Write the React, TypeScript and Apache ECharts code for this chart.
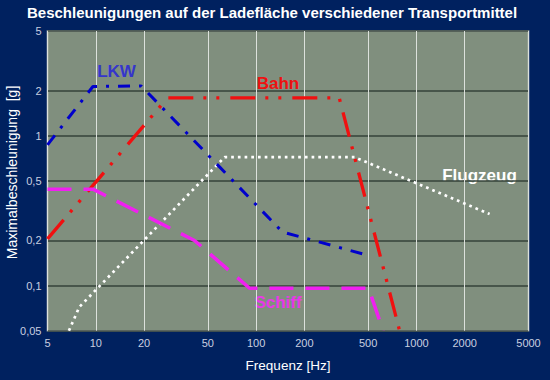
import React, { useEffect, useRef } from 'react';
import * as echarts from 'echarts';

// Tick labels
const xTicks = [5, 10, 20, 50, 100, 200, 500, 1000, 2000, 5000];
const yTicks = [0.05, 0.1, 0.2, 0.5, 1, 2, 5];

// Series values (frequency in Hz, max acceleration in g)
const lkwFreq = [5, 9.6, 19.2, 146, 460];
const lkwAcc = [0.87, 2.13, 2.15, 0.228, 0.163];
const bahnFreq = [5, 28, 330, 785];
const bahnAcc = [0.205, 1.79, 1.79, 0.05];
const flugFreq = [6.8, 7.9, 63.6, 411, 2860];
const flugAcc = [0.05, 0.072, 0.72, 0.72, 0.3];
const schiffFreq = [5, 9.6, 41.3, 91, 503, 620];
const schiffAcc = [0.44, 0.44, 0.2, 0.096, 0.096, 0.05];

const pairs = (xs: number[], ys: number[]) => xs.map((x, i) => [x, ys[i]]);

const FONT = '"Liberation Sans", Arial, sans-serif';
const fmt = (v: number) => String(Number(v.toPrecision(3))).replace('.', ',');

export default function App() {
  const ref = useRef<HTMLDivElement>(null);
  useEffect(() => {
    document.body.style.margin = '0';
    document.body.style.background = '#00215F';
    const chart = echarts.init(ref.current!, undefined, { renderer: 'svg' });
    chart.setOption({
      animation: false,
      backgroundColor: '#00215F',
      textStyle: { fontFamily: FONT },
      title: {
        text: 'Beschleunigungen auf der Ladefläche verschiedener Transportmittel',
        left: 27,
        top: 5,
        padding: 0,
        textStyle: { color: '#FFFFFF', fontSize: 15, fontWeight: 'bold', fontFamily: FONT },
      },
      grid: {
        left: 47.5,
        right: 21.5,
        top: 31,
        bottom: 49.3,
        show: true,
        backgroundColor: '#808F7E',
        borderColor: '#C9CEC9',
        borderWidth: 1.5,
      },
      xAxis: {
        type: 'log',
        min: 5,
        max: 5000,
        name: 'Frequenz [Hz]',
        nameLocation: 'middle',
        nameGap: 28,
        nameTextStyle: { color: '#FFFFFF', fontSize: 13.5, fontFamily: FONT },
        axisLine: { show: false },
        axisTick: { show: false, customValues: xTicks },
        minorTick: { show: false },
        axisLabel: {
          customValues: xTicks,
          color: '#C9CFE0',
          fontSize: 11,
          margin: 7,
          fontFamily: FONT,
          formatter: (v: number) => fmt(v),
        },
        splitLine: { show: true, lineStyle: { color: '#DCE1DC', width: 1 } },
      },
      yAxis: {
        type: 'log',
        min: 0.05,
        max: 5,
        axisLine: { show: false },
        axisTick: { show: false, customValues: yTicks },
        minorTick: { show: false },
        axisLabel: {
          customValues: yTicks,
          color: '#C9CFE0',
          fontSize: 11,
          margin: 6,
          fontFamily: FONT,
          formatter: (v: number) => fmt(v),
        },
        splitLine: { show: true, lineStyle: { color: '#34423A', width: 1.5 } },
      },
      series: [
        {
          name: 'LKW',
          type: 'line',
          showSymbol: false,
          data: pairs(lkwFreq, lkwAcc),
          lineStyle: { color: '#0000CC', width: 3, type: [12, 9, 3, 9] },
          z: 4,
        },
        {
          name: 'Bahn',
          type: 'line',
          showSymbol: false,
          data: pairs(bahnFreq, bahnAcc),
          lineStyle: { color: '#F01010', width: 3.3, type: [25, 10, 3, 10, 3, 11] },
          z: 3,
        },
        {
          name: 'Flugzeug',
          type: 'line',
          showSymbol: false,
          data: pairs(flugFreq, flugAcc),
          lineStyle: { color: '#FFFFFF', width: 2.7, type: [2.7, 4] },
          z: 2,
        },
        {
          name: 'Schiff',
          type: 'line',
          showSymbol: false,
          data: pairs(schiffFreq, schiffAcc),
          lineStyle: { color: '#F020F0', width: 3.5, type: [24, 12] },
          z: 5,
        },
      ],
      graphic: [
        {
          type: 'text', x: 12, y: 172.5, rotation: Math.PI / 2,
          style: { text: 'Maximalbeschleunigung  [g]', fill: '#FFFFFF', font: `14px ${FONT}`, textAlign: 'center', textVerticalAlign: 'middle' },
        },
        {
          type: 'text', x: 116.5, y: 71.5,
          style: { text: 'LKW', fill: '#3535CC', font: `bold 17px ${FONT}`, textAlign: 'center', textVerticalAlign: 'middle' },
        },
        {
          type: 'text', x: 278, y: 83.7,
          style: { text: 'Bahn', fill: '#EE1111', font: `bold 17px ${FONT}`, textAlign: 'center', textVerticalAlign: 'middle' },
        },
        {
          type: 'text', x: 479.5, y: 175,
          style: { text: 'Flugzeug', fill: '#FFFFFF', font: `bold 17px ${FONT}`, textAlign: 'center', textVerticalAlign: 'middle' },
        },
        {
          type: 'text', x: 278, y: 302,
          style: { text: 'Schiff', fill: '#E838E8', font: `bold 17px ${FONT}`, textAlign: 'center', textVerticalAlign: 'middle' },
        },
      ],
    });
    return () => chart.dispose();
  }, []);
  return <div ref={ref} style={{ position: 'fixed', left: 0, top: 0, width: 550, height: 380 }} />;
}
